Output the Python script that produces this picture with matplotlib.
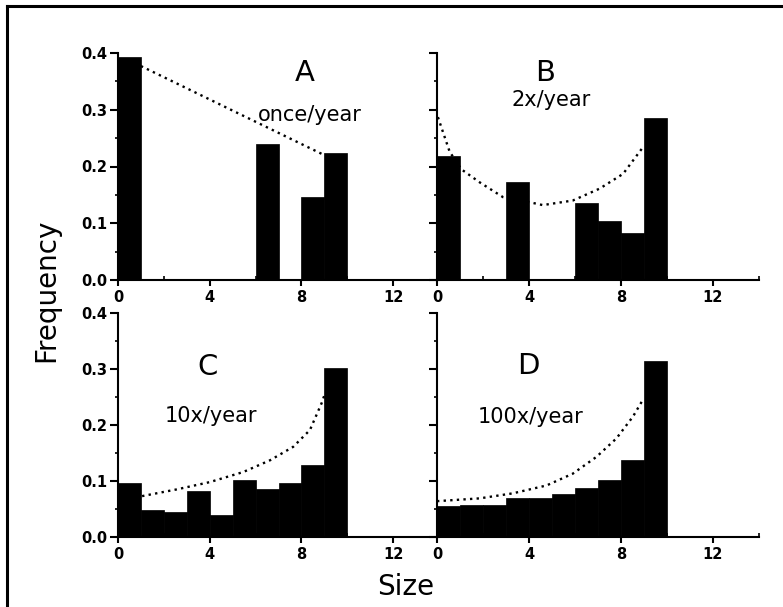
import numpy as np
import matplotlib
matplotlib.use("Agg")
import matplotlib.pyplot as plt
from matplotlib.lines import Line2D
from matplotlib.ticker import MultipleLocator

# --- bin heights (size classes 0-1 ... 9-10) ---
bin_left = [0, 1, 2, 3, 4, 5, 6, 7, 8, 9]
freq_a = [0.393, 0, 0, 0, 0, 0, 0.240, 0, 0.146, 0.224]
freq_b = [0.219, 0, 0, 0.172, 0, 0, 0.136, 0.104, 0.082, 0.286]
freq_c = [0.097, 0.048, 0.045, 0.082, 0.039, 0.101, 0.086, 0.097, 0.128, 0.301]
freq_d = [0.055, 0.057, 0.058, 0.069, 0.069, 0.076, 0.088, 0.102, 0.137, 0.315]

# --- dotted reference curves ---
curve_a_x = [1.0, 9.0]
curve_a_y = [0.377, 0.220]
curve_b_x = [0.04, 0.55, 1.06, 1.86, 2.87, 4.03, 4.6, 5.9, 7.07, 8.09, 8.9]
curve_b_y = [0.287, 0.226, 0.195, 0.172, 0.146, 0.137, 0.132, 0.140, 0.161, 0.187, 0.231]
curve_c_x = [1.05, 2.56, 4.0, 5.46, 6.63, 7.64, 8.37, 8.88, 9.0]
curve_c_y = [0.073, 0.085, 0.098, 0.116, 0.137, 0.161, 0.191, 0.239, 0.253]
curve_d_x = [0.0, 1.86, 3.3, 4.76, 5.9, 6.93, 7.8, 8.52, 8.95]
curve_d_y = [0.064, 0.069, 0.078, 0.092, 0.113, 0.143, 0.176, 0.215, 0.245]

letters = ["A", "B", "C", "D"]
rates = ["once/year", "2x/year", "10x/year", "100x/year"]

fig = plt.figure(figsize=(7.83, 6.07), dpi=100)
W, H = 783, 607

def px_axes(left, top, right, bottom):
    return fig.add_axes([left / W, 1 - bottom / H, (right - left) / W, (bottom - top) / H])

ax_a = px_axes(118, 53, 439, 280)
ax_b = px_axes(437, 53, 759, 280)
ax_c = px_axes(118, 313, 439, 537)
ax_d = px_axes(437, 313, 759, 537)

panels = [
    (ax_a, freq_a, curve_a_x, curve_a_y, (8.15, 0.365), (8.37, 0.29)),
    (ax_b, freq_b, curve_b_x, curve_b_y, (4.68, 0.365), (4.97, 0.317)),
    (ax_c, freq_c, curve_c_x, curve_c_y, (3.9, 0.303), (4.05, 0.216)),
    (ax_d, freq_d, curve_d_x, curve_d_y, (3.99, 0.305), (4.07, 0.215)),
]

for i, (ax, freq, cx, cy, let_pos, rate_pos) in enumerate(panels):
    ax.bar(bin_left, freq, width=1.0, align="edge", color="black", edgecolor="black", linewidth=0.5)
    ax.plot(cx, cy, color="black", linestyle=(0, (1, 1.8)), linewidth=1.7)
    ax.set_xlim(0, 14)
    ax.set_ylim(0, 0.4)
    ax.patch.set_alpha(0)
    for s in ["top", "right"]:
        ax.spines[s].set_visible(False)
    for s in ["left", "bottom"]:
        ax.spines[s].set_linewidth(1.5)
    ax.xaxis.set_major_locator(MultipleLocator(4))
    ax.xaxis.set_minor_locator(MultipleLocator(2))
    ax.yaxis.set_major_locator(MultipleLocator(0.1))
    ax.yaxis.set_minor_locator(MultipleLocator(0.05))
    ax.tick_params(axis="x", which="major", direction="out", length=4.5, width=1.5, pad=3)
    ax.tick_params(axis="x", which="minor", direction="in", length=3, width=1.2)
    ax.tick_params(axis="y", which="major", direction="out", length=6, width=1.5, pad=2)
    ax.tick_params(axis="y", which="minor", direction="out", length=2.5, width=1.2)
    ax.set_yticks([0, 0.1, 0.2, 0.3, 0.4])
    ax.set_yticklabels(["0.0", "0.1", "0.2", "0.3", "0.4"])
    for lab in ax.get_xticklabels() + ax.get_yticklabels():
        lab.set_fontweight("bold")
        lab.set_fontsize(10.5)
    if i in (1, 3):
        ax.tick_params(axis="y", labelleft=False)
    ax.text(let_pos[0], let_pos[1], letters[i], fontsize=21, ha="center", va="center")
    ax.text(rate_pos[0], rate_pos[1], rates[i], fontsize=15, ha="center", va="center")

fig.text(46 / W, 1 - 290 / H, "Frequency", rotation=90, fontsize=20, ha="center", va="center")
fig.text(406 / W, 1 - 587 / H, "Size", fontsize=20, ha="center", va="center")

# outer frame (left and top edges only)
fig.add_artist(Line2D([7 / W, 7 / W], [0, 1 - 6 / H], transform=fig.transFigure, color="black", linewidth=2.2))
fig.add_artist(Line2D([7 / W, 1], [1 - 6 / H, 1 - 6 / H], transform=fig.transFigure, color="black", linewidth=2.2))

fig.savefig("out.png", dpi=100)
